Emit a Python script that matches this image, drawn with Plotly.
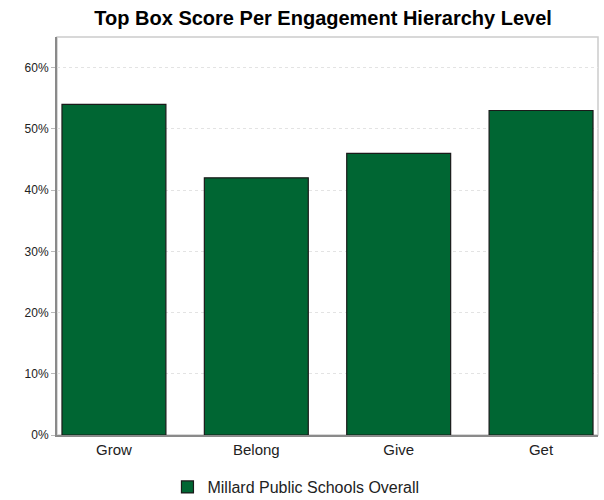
import plotly.graph_objects as go

categories = ["Grow", "Belong", "Give", "Get"]
values = [0.54, 0.42, 0.46, 0.53]
series_name = "Millard Public Schools Overall"
tick_vals = [0, 0.1, 0.2, 0.3, 0.4, 0.5, 0.6]
tick_text = ["0%", "10%", "20%", "30%", "40%", "50%", "60%"]

FONT = "Liberation Sans, Arial, sans-serif"

fig = go.Figure()
fig.add_trace(go.Bar(
    x=categories, y=values, name=series_name,
    marker=dict(color="#006633", line=dict(color="#1a1a1a", width=1.2)),
    showlegend=True,
))

fig.update_layout(
    width=604, height=500,
    margin=dict(l=57, r=6, t=37, b=65, autoexpand=False),
    paper_bgcolor="white", plot_bgcolor="white",
    bargap=0.27,
    title=dict(text="<b>Top Box Score Per Engagement Hierarchy Level</b>",
               x=0.535, xanchor="center", y=0.964, yanchor="middle",
               font=dict(family=FONT, size=20, color="#000")),
    font=dict(family=FONT, color="#222"),
    showlegend=True,
    legend=dict(orientation="h", xref="container", yref="container",
                x=0.49, xanchor="center", y=0.026, yanchor="middle",
                itemwidth=30,
                font=dict(family=FONT, size=16, color="#222")),
    xaxis=dict(range=[-0.4, 3.4], showline=True, linecolor="#8a8a8a", linewidth=2,
               mirror=False, ticks="", tickfont=dict(size=15, color="#222"),
               showgrid=False),
    yaxis=dict(range=[0, 0.65], tickvals=tick_vals, ticktext=tick_text,
               showline=True, linecolor="#8a8a8a", linewidth=2,
               ticks="outside", ticklen=4, tickcolor="#bbb",
               showgrid=True, gridcolor="#e3e3e3", griddash="dot", gridwidth=1,
               zeroline=False, tickfont=dict(size=12, color="#222")),
)
fig.add_shape(type="rect", xref="paper", yref="paper", x0=0, y0=0, x1=1, y1=1,
              line=dict(color="#cccccc", width=1.5), layer="below")
fig.write_html("out.html")
